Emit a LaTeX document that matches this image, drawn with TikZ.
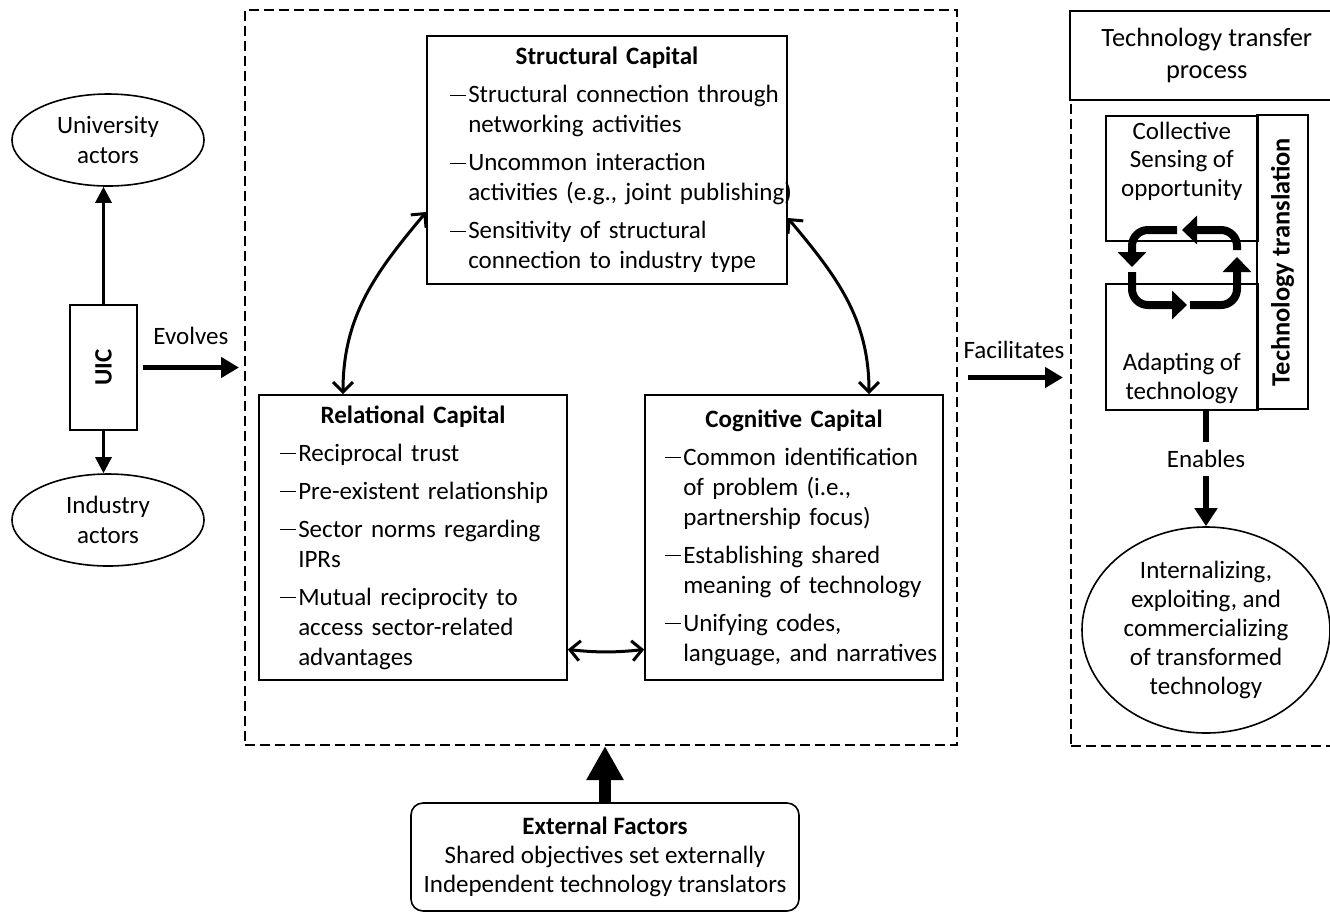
\documentclass[tikz,border=0pt]{standalone}
\usepackage{fontspec}
\setmainfont{Carlito}
\usetikzlibrary{arrows.meta,positioning,shapes.geometric}

\newcommand{\diafont}{\fontsize{12.5}{15}\selectfont}
\newcommand{\captitle}[1]{{\centering\bfseries #1\par}}
\newcommand{\capitem}[1]{\par\vspace{4pt}\noindent\makebox[0.73em][l]{\rule[0.28em]{0.62em}{0.6pt}}\mbox{#1}}
\newcommand{\capcont}[1]{\newline\hspace*{0.73em}\mbox{#1}}

\tikzset{
  every node/.style={font=\diafont},
  capbox/.style={draw, line width=0.8pt, align=left, inner xsep=10.5pt, inner ysep=0pt},
  plainbox/.style={draw, line width=0.8pt},
  dashbox/.style={draw, line width=1pt, dash pattern=on 5pt off 2.5pt},
  actor/.style={draw, ellipse, line width=0.8pt, align=center, inner sep=0pt},
  dblarrow/.style={line width=1.5pt, {Straight Barb[length=5pt,width=10pt]}-{Straight Barb[length=5pt,width=10pt]}},
  thinarrow/.style={line width=1.5pt, -{Triangle[width=8pt,length=8pt]}},
  fatarrow/.style={line width=2.5pt, -{Triangle[width=10pt,length=9pt]}},
  cyclearrow/.style={line width=4pt, rounded corners=8pt, -{Triangle[width=14pt,length=7.5pt]}},
}

\begin{document}
\begin{tikzpicture}[x=0.5pt, y=-0.5pt]
  \useasboundingbox (0,0) rectangle (1330,912);

  % social capital frame
  \node[dashbox, minimum width=356pt, minimum height=367.5pt] (social) at (601,377.5) {};

  \node[capbox, inner xsep=11.5pt, text width=157pt, minimum height=124pt] (struct) at (607,160) {
    \captitle{Structural Capital}
    \capitem{Structural connection through}\capcont{networking activities}
    \capitem{Uncommon interaction}\capcont{activities (e.g., joint publishing)}
    \capitem{Sensitivity of structural}\capcont{connection to industry type}};
  \node[capbox, text width=133pt, minimum height=142.5pt] (relat) at (413,537.5) {
    \captitle{Relational Capital}
    \capitem{Reciprocal trust}
    \capitem{Pre-existent relationship}
    \capitem{Sector norms regarding}\capcont{IPRs}
    \capitem{Mutual reciprocity to}\capcont{access sector-related}\capcont{advantages}};
  \node[capbox, inner xsep=10pt, text width=129pt, minimum height=142.5pt] (cogn) at (794,537.5) {
    \captitle{Cognitive Capital}
    \capitem{Common identification}\capcont{of problem (i.e.,}\capcont{partnership focus)}
    \capitem{Establishing shared}\capcont{meaning of technology}
    \capitem{Unifying codes,}\capcont{language, and narratives}};

  \draw[dblarrow] ([yshift=-26pt]struct.west) to[out=230, in=90] ([xshift=-35pt]relat.north);
  \draw[dblarrow] ([yshift=-29pt]struct.east) to[out=-50, in=90] ([xshift=37.5pt]cogn.north);
  \draw[dblarrow] ([yshift=-56pt]relat.east) to[bend right=6] ([yshift=-56pt]cogn.west);

  % actors
  \node[plainbox, rotate=90, minimum width=62.5pt, minimum height=33.5pt, font=\diafont\bfseries] (uic) at (103.5,367.5) {UIC};
  \node[actor, minimum width=96pt, minimum height=46pt] (univ) at (108,140) {University\\actors};
  \node[actor, minimum width=96pt, minimum height=46pt] (indus) at (108,520) {Industry\\actors};
  \draw[thinarrow] (uic.east) -- (uic.east |- univ.south);
  \draw[thinarrow] (uic.west) -- (uic.west |- indus.north);
  \draw[fatarrow, shorten <=2.5pt, shorten >=2.5pt] (uic.south) -- node[above=7pt] (evolves) {Evolves} (uic.south -| social.west);

  % technology transfer
  \node[dashbox, minimum width=137pt, minimum height=323.5pt, anchor=north west] (tfr) at (1070,98) {};
  \node[plainbox, fill=white, minimum width=137pt, minimum height=44.5pt, anchor=north west, align=center,
    font=\fontsize{13.2}{16}\selectfont] (ttp) at (1069,10) {Technology transfer\\process};
  \draw[fatarrow, shorten <=5pt, shorten >=3.5pt] (social.east) -- node[above=5pt] (facil) {Facilitates} (social.east -| tfr.west);

  \node[plainbox, minimum width=76pt, minimum height=62.5pt, anchor=north west] (sense) at (1105,115) {};
  \node[below=0pt of sense.north, align=center, font=\fontsize{12.5}{14.25}\selectfont] (sensetxt) {Collective\\Sensing of\\opportunity};
  \node[plainbox, minimum width=76pt, minimum height=63pt, anchor=north west] (adapt) at (1105,283) {};
  \node[above=0pt of adapt.south, align=center, font=\fontsize{12.5}{14.25}\selectfont] (adapttxt) {Adapting of\\technology};
  \node[plainbox, rotate=90, minimum width=147pt, minimum height=25.5pt, font=\fontsize{13.2}{15}\selectfont\bfseries] (transl) at (1282.5,262) {Technology translation};

  % translation cycle
  \coordinate (cycnw) at (1132,230);
  \coordinate (cycse) at (1237,305);
  \draw[cyclearrow] ([xshift=22.5pt]cycnw) -- (cycnw) -- (cycnw |- 0,267);
  \draw[cyclearrow] (cycse |- 0,250) -- (cycse |- cycnw) -- (1182,230);
  \draw[cyclearrow] (cycnw |- 0,272) -- (cycnw |- cycse) -- (1187,305);
  \draw[cyclearrow] (1190,305) -- (cycse) -- (cycse |- 0,257);

  \node[actor, minimum width=124pt, minimum height=103pt, font=\fontsize{12.5}{14.5}\selectfont] (intern) at (1206,630)
    {Internalizing,\\exploiting, and\\commercializing\\of transformed\\technology};
  \draw[line width=3pt, -{Triangle[width=11pt,length=9pt]}] (intern.north |- adapt.south) -- node[pos=0.42, fill=white, inner ysep=4pt] (enables) {Enables} (intern.north);

  % external factors
  \node[plainbox, rounded corners=6pt, minimum width=194pt, minimum height=54pt, align=center,
    font=\fontsize{12.5}{14.5}\selectfont] (ext) at (605,857)
    {\textbf{External Factors}\\Shared objectives set externally\\Independent technology translators};
  \draw[line width=6pt, -{Triangle[width=17.5pt,length=17pt]}] (ext.north) -- (ext.north |- social.south);
\end{tikzpicture}
\end{document}
